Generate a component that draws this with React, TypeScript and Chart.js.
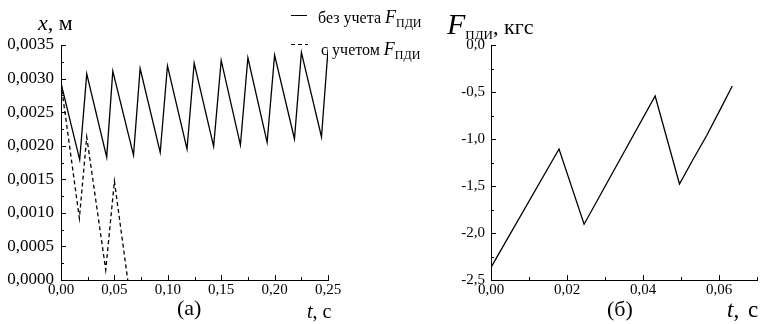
import React, { useEffect, useRef } from "react";
import { Chart, registerables } from "chart.js";

Chart.register(...registerables);

// ---- Data ----
// (а) displacement x, m vs time t, s — without F_ПДИ (solid)
const tNoForce = [0, 0.0175, 0.0241, 0.0428, 0.0485, 0.0679, 0.0741, 0.0929, 0.0997, 0.118, 0.1247, 0.1429, 0.150, 0.168, 0.175, 0.193, 0.200, 0.2186, 0.2251, 0.2439, 0.250];
const xNoForce = [0.00293, 0.00179, 0.00307, 0.00183, 0.00311, 0.00186, 0.00315, 0.0019, 0.00319, 0.00195, 0.00323, 0.00199, 0.00327, 0.00201, 0.00331, 0.00205, 0.00335, 0.0021, 0.00339, 0.00213, 0.00343];
// (а) with F_ПДИ (dashed)
const tWithForce = [0, 0.0172, 0.0241, 0.0419, 0.0500, 0.0625];
const xWithForce = [0.00293, 0.00092, 0.00213, 0.00015, 0.00147, 0.0];
// (б) force F_ПДИ, kgf vs time t, s
const tForce = [0, 0.0179, 0.0245, 0.0432, 0.0496, 0.0532, 0.0568, 0.0602, 0.0635];
const fForce = [-2.365, -1.106, -1.907, -0.543, -1.479, -1.215, -0.96, -0.695, -0.436];

// tick values
const xTicksA = [0, 0.05, 0.1, 0.15, 0.2, 0.25];
const yTicksA = [0, 0.0005, 0.001, 0.0015, 0.002, 0.0025, 0.003, 0.0035];
const xTicksB = [0, 0.02, 0.04, 0.06];
const yTicksB = [-2.5, -2.0, -1.5, -1.0, -0.5, 0.0];

const SERIF = "'Liberation Serif', 'Times New Roman', serif";
const fmt = (v: number, d: number) => v.toFixed(d).replace(".", ",");

// inward major/minor tick marks, placed through the chart's own scales
const innerTicks = {
  id: "innerTicks",
  afterDraw(chart: any) {
    const o = chart.options.plugins.innerTicks;
    if (!o) return;
    const { ctx, chartArea } = chart;
    ctx.save();
    ctx.strokeStyle = "#000";
    ctx.lineWidth = 1;
    const run = (scale: any, step: number, horiz: boolean) => {
      for (let i = 0; ; i++) {
        const v = scale.min + (i * step) / 2;
        if (v > scale.max + step * 1e-6) break;
        const len = i % 2 === 0 ? 5 : 3;
        const p = Math.round(scale.getPixelForValue(v)) + 0.5;
        ctx.beginPath();
        if (horiz) {
          ctx.moveTo(p, chartArea.bottom);
          ctx.lineTo(p, chartArea.bottom - len);
        } else {
          ctx.moveTo(chartArea.left, p);
          ctx.lineTo(chartArea.left + len, p);
        }
        ctx.stroke();
      }
    };
    run(chart.scales.x, o.xStep, true);
    run(chart.scales.y, o.yStep, false);
    ctx.restore();
  },
};

function makeScale(opts: {
  min: number; max: number; ticks: number[]; dec: number; size: number; pad: number; fit: number; axis: "x" | "y";
}) {
  return {
    type: "linear",
    min: opts.min,
    max: opts.max,
    afterBuildTicks: (s: any) => {
      s.ticks = opts.ticks.map((v) => ({ value: v }));
    },
    afterFit: (s: any) => {
      if (opts.axis === "x") s.height = opts.fit;
      else s.width = opts.fit;
    },
    ticks: {
      callback: (v: any) => fmt(Number(v), opts.dec),
      font: { family: SERIF, size: opts.size },
      color: "#000",
      padding: opts.pad,
      autoSkip: false,
      maxRotation: 0,
    },
    grid: { display: true, drawOnChartArea: false, drawTicks: false, color: "#000" },
    border: { display: true, color: "#000", width: 1 },
  };
}

function ChartCanvas({ config, left, width }: { config: any; left: number; width: number }) {
  const ref = useRef<HTMLCanvasElement | null>(null);
  useEffect(() => {
    if (!ref.current) return;
    const chart = new Chart(ref.current, config);
    return () => chart.destroy();
  }, []);
  return (
    <canvas
      ref={ref}
      width={width}
      height={324}
      style={{ position: "absolute", left, top: 0, width, height: 324 }}
    />
  );
}

function Txt({ x, base, size, children, italic, style }: any) {
  return (
    <div
      style={{
        position: "absolute",
        left: x,
        top: base - size * 0.891,
        fontSize: size,
        fontFamily: SERIF,
        fontStyle: italic ? "italic" : "normal",
        whiteSpace: "nowrap",
        lineHeight: "normal",
        color: "#000",
        ...(style || {}),
      }}
    >
      {children}
    </div>
  );
}

const Sub = ({ children, size, drop }: any) => (
  <span style={{ fontSize: size, fontStyle: "normal", position: "relative", top: drop }}>{children}</span>
);

export default function App() {
  const configA = {
    type: "line",
    data: {
      datasets: [
        {
          label: "без учета F_ПДИ",
          data: tNoForce.map((t, i) => ({ x: t, y: xNoForce[i] })),
          borderColor: "#000",
          borderWidth: 1.3,
          pointRadius: 0,
          tension: 0,
          fill: false,
        },
        {
          label: "с учетом F_ПДИ",
          data: tWithForce.map((t, i) => ({ x: t, y: xWithForce[i] })),
          borderColor: "#000",
          borderWidth: 1.3,
          borderDash: [4, 3],
          pointRadius: 0,
          tension: 0,
          fill: false,
        },
      ],
    },
    options: {
      responsive: false,
      animation: false,
      layout: { padding: { top: 45, right: 55, bottom: 0, left: 0 } },
      plugins: {
        legend: { display: false },
        tooltip: { enabled: false },
        innerTicks: { xStep: 0.05, yStep: 0.0005 },
      },
      scales: {
        x: makeScale({ min: 0, max: 0.25, ticks: xTicksA, dec: 2, size: 15, pad: 1, fit: 44, axis: "x" }),
        y: makeScale({ min: 0, max: 0.0035, ticks: yTicksA, dec: 4, size: 17, pad: 7, fit: 61, axis: "y" }),
      },
    },
    plugins: [innerTicks],
  };

  const configB = {
    type: "line",
    data: {
      datasets: [
        {
          label: "F_ПДИ",
          data: tForce.map((t, i) => ({ x: t, y: fForce[i] })),
          borderColor: "#000",
          borderWidth: 1.3,
          pointRadius: 0,
          tension: 0,
          fill: false,
        },
      ],
    },
    options: {
      responsive: false,
      animation: false,
      layout: { padding: { top: 45, right: 9, bottom: 0, left: 0 } },
      plugins: {
        legend: { display: false },
        tooltip: { enabled: false },
        innerTicks: { xStep: 0.02, yStep: 0.5 },
      },
      scales: {
        x: makeScale({ min: 0, max: 0.07, ticks: xTicksB, dec: 2, size: 15, pad: 1, fit: 44, axis: "x" }),
        y: makeScale({ min: -2.5, max: 0, ticks: yTicksB, dec: 1, size: 15, pad: 6, fit: 108, axis: "y" }),
      },
    },
    plugins: [innerTicks],
  };

  return (
    <div
      style={{
        position: "fixed",
        left: 0,
        top: 0,
        width: 766,
        height: 324,
        background: "#fff",
        overflow: "hidden",
      }}
    >
      <ChartCanvas config={configA} left={0} width={383} />
      <ChartCanvas config={configB} left={383} width={383} />

      {/* (а) y-axis title */}
      <Txt x={38} base={30} size={22}>
        <i>x</i>, м
      </Txt>
      {/* legend */}
      <div style={{ position: "absolute", left: 291, top: 15, width: 16, height: 0, borderTop: "1.3px solid #000" }} />
      <Txt x={318} base={21} size={16}>
        без учета <i style={{ fontSize: 18 }}>F</i>
        <Sub size={12} drop={4}>ПДИ</Sub>
      </Txt>
      <div
        style={{
          position: "absolute",
          left: 291,
          top: 44,
          width: 17,
          height: 1.3,
          background: "repeating-linear-gradient(to right, #000 0 4px, transparent 4px 7px)",
        }}
      />
      <Txt x={321} base={53} size={16}>
        с учетом <i style={{ fontSize: 18 }}>F</i>
        <Sub size={12} drop={4}>ПДИ</Sub>
      </Txt>
      {/* (а) x-axis title and panel label */}
      <Txt x={307} base={318} size={20}>
        <i>t</i>, с
      </Txt>
      <Txt x={177} base={315} size={22}>
        (а)
      </Txt>

      {/* (б) y-axis title */}
      <Txt x={447} base={27} size={22}>
        <i style={{ fontSize: 30 }}>F</i>
        <Sub size={13} drop={5}>ПДИ</Sub>, кгс
      </Txt>
      <Txt x={727} base={317} size={23} style={{ wordSpacing: 3 }}>
        <i>t</i>, с
      </Txt>
      <Txt x={607} base={316} size={22}>
        (б)
      </Txt>
    </div>
  );
}
